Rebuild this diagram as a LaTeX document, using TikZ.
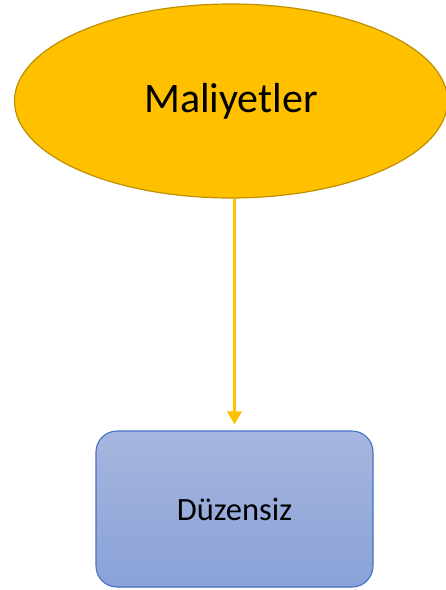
\documentclass[tikz,border=0pt]{standalone}
\usepackage{fontspec}
\setmainfont{Carlito}
\usetikzlibrary{shapes.geometric,arrows.meta}
\definecolor{gold}{HTML}{FFC000}
\definecolor{golddark}{HTML}{BF9000}
\definecolor{boxtop}{HTML}{A7B6DE}
\definecolor{boxbot}{HTML}{8AA2D8}
\definecolor{boxline}{HTML}{4472C4}

\begin{document}
\begin{tikzpicture}[x=1pt, y=-1pt,
    costnode/.style={ellipse, draw=golddark, fill=gold, line width=1.2pt,
      minimum width=433pt, minimum height=194pt, inner sep=0pt,
      font=\fontsize{42}{46}\selectfont},
    typebox/.style={rectangle, rounded corners=21pt, draw=boxline, line width=1.1pt,
      top color=boxtop, bottom color=boxbot,
      minimum width=277pt, minimum height=156pt, inner sep=0pt,
      font=\fontsize{32.5}{36}\selectfont},
    link/.style={gold, line width=3.6pt, -{Triangle[width=14pt,length=13pt]}}]
  \useasboundingbox (0,0) rectangle (446,590);
  % top: the ellipse (runs past the right edge)
  \node[costnode] (cost) at (231,101) {Maliyetler};
  % bottom: the box
  \node[typebox] (irreg) at (234.5,509) {Düzensiz};
  % connector
  \draw[link, shorten >=6pt] (irreg.north |- cost.south) -- (irreg.north);
\end{tikzpicture}
\end{document}
